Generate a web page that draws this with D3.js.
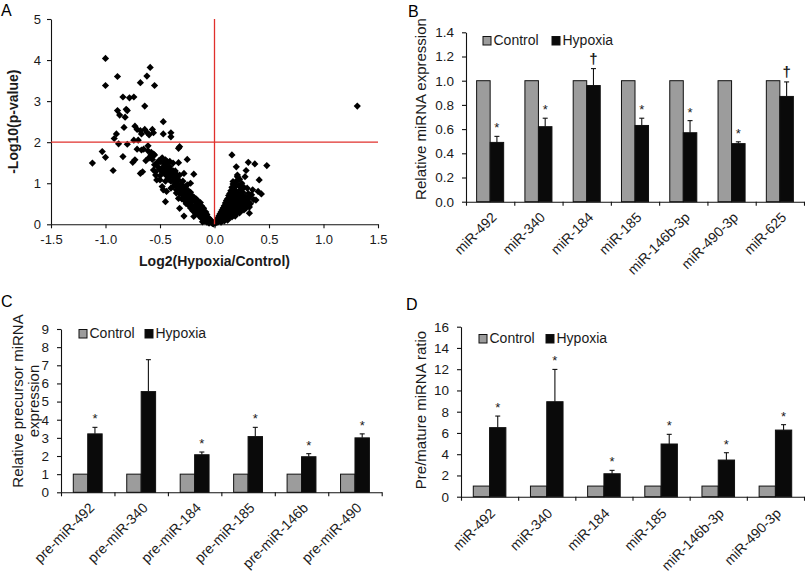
<!DOCTYPE html>
<html><head><meta charset="utf-8">
<script src="https://cdn.jsdelivr.net/npm/d3@7"></script>
<style>body{margin:0;background:#fff}svg{display:block;font-family:"Liberation Sans",Arial,sans-serif}</style>
</head><body><svg id="c" width="805" height="576"></svg>
<script>
// ---------- Panel A: volcano plot data [log2 FC, -log10 p] ----------
const volcanoPoints = [
[-1.00,4.04],[-1.00,3.38],[-0.89,3.60],[-0.59,3.82],[-0.62,3.61],[-0.68,3.45],[-0.55,3.38],[-0.84,3.10],[-0.78,3.08],[-0.74,3.10],
[-0.64,2.88],[1.31,2.88],[-0.89,2.77],[-0.81,2.80],[-0.80,2.77],[-0.87,2.66],[-0.82,2.61],[-0.47,2.50],[-0.83,2.36],[-0.73,2.39],
[-0.71,2.31],[-0.68,2.28],[-0.64,2.31],[-0.62,2.24],[-0.57,2.31],[-0.56,2.23],[-0.67,2.20],[-0.60,2.18],[-0.90,2.20],[-0.92,2.09],
[-0.47,2.20],[-0.40,2.23],[-0.40,2.13],[-0.74,2.05],[-0.70,2.05],[-0.80,1.95],[-0.88,1.96],[-0.61,1.91],[-0.71,1.83],[-0.67,1.81],
[-0.65,1.83],[-0.58,1.75],[-0.55,1.69],[-1.03,1.77],[-1.00,1.63],[-1.12,1.49],[-0.93,1.31],[-0.84,1.65],[-0.75,1.51],[-0.73,1.57],
[-0.68,1.24],[-0.66,1.28],[-0.58,1.66],[-0.57,1.58],[-0.53,1.49],[-0.50,1.52],[-0.45,1.50],[-0.41,1.53],[-0.38,1.49],[-0.33,1.50],
[-0.32,1.89],[-0.33,1.85],[-0.25,1.58],[-0.54,1.28],[-0.53,1.08],[-0.50,1.08],[-0.46,1.24],[-0.44,1.36],[-0.41,1.32],[-0.39,1.24],
[-0.42,1.16],[-0.38,1.16],[-0.36,1.04],[-0.32,1.20],[-0.48,0.92],[-0.47,0.84],[-0.44,0.80],[-0.38,0.92],[-0.35,0.84],[-0.30,0.96],
[-0.22,1.00],[-0.32,0.75],[-0.33,0.63],[-0.28,0.59],[-0.45,0.55],[-0.32,0.39],[-0.28,0.20],[-0.24,0.67],[-0.19,0.66],[-0.21,0.55],
[-0.16,0.59],[-0.13,0.53],[-0.18,0.45],[-0.15,0.35],[-0.10,0.39],[-0.19,0.19],[-0.13,0.23],[-0.09,0.27],[-0.07,0.15],[-0.04,0.11],
[-0.10,0.11],[-0.06,0.06],[-0.02,0.04],[-0.61,1.79],[-0.56,1.71],[-0.59,1.65],[-0.45,1.57],[-0.43,1.52],[-0.51,1.55],[-0.47,1.49],
[-0.40,1.32],[-0.35,1.16],[-0.19,1.22],[-0.28,1.24],[-0.56,1.32],[-0.54,1.20],[-0.36,0.96],[-0.33,0.88],[-0.30,0.79],[-0.25,0.96],
[-0.60,1.62],[-0.55,1.45],[-0.52,1.40],[-0.50,1.33],[-0.48,1.28],[-0.47,1.40],[-0.45,1.30],[-0.44,1.18],[-0.43,1.25],[-0.42,1.10],
[-0.41,1.40],[-0.40,1.05],[-0.39,1.20],[-0.38,1.30],[-0.37,1.10],[-0.36,1.00],[-0.35,1.22],[-0.34,0.95],[-0.33,1.08],[-0.32,0.90],
[-0.31,0.98],[-0.30,0.85],[-0.29,0.70],[-0.28,0.80],[-0.27,0.92],[-0.26,0.75],[-0.25,0.65],[-0.24,0.82],[-0.23,0.70],[-0.22,0.60],
[-0.21,0.45],[-0.20,0.68],[-0.19,0.40],[-0.18,0.55],[-0.17,0.36],[-0.16,0.50],[-0.15,0.44],[-0.14,0.30],[-0.13,0.38],[-0.12,0.28],
[-0.11,0.33],[-0.10,0.22],[-0.09,0.18],[-0.08,0.20],[-0.07,0.24],[-0.06,0.12],[-0.05,0.15],[-0.04,0.06],[-0.03,0.09],[-0.02,0.02],
[-0.01,0.01],[-0.26,0.50],[-0.23,0.45],[-0.20,0.33],[-0.17,0.26],[-0.14,0.20],[-0.12,0.15],[-0.09,0.08],[-0.07,0.05],[-0.05,0.03],
[-0.16,0.30],[-0.22,0.40],[-0.24,0.54],[-0.30,0.62],[-0.35,0.76],[-0.40,0.88],[-0.45,1.05],[-0.50,1.18],[-0.58,1.70],[-0.63,1.55],
[-0.48,1.62],[-0.44,1.46],[-0.36,1.30],[-0.29,1.05],[-0.27,0.85],[-0.22,0.78],[-0.17,0.62],[-0.12,0.45],[-0.08,0.30],[-0.11,0.06],
// right side (up-regulated)
[0.16,1.69],[0.20,1.40],[0.31,1.51],[0.37,1.47],[0.48,1.43],[0.29,1.31],[0.28,1.16],[0.41,1.08],[0.35,0.84],[0.40,0.80],
[0.38,0.59],[0.43,0.74],[0.32,0.27],[0.21,1.16],[0.17,1.04],[0.24,0.92],[0.30,0.88],[0.28,0.67],[0.33,0.71],[0.23,1.10],
[0.21,1.20],[0.25,1.00],[0.27,0.90],[0.31,0.75],[0.34,0.72],[0.36,0.60],[0.33,0.50],[0.32,0.65],[0.32,0.42],[0.31,0.55],
[0.01,0.03],[0.02,0.06],[0.02,0.10],[0.03,0.05],[0.03,0.15],[0.04,0.08],[0.04,0.20],[0.05,0.12],[0.05,0.25],[0.06,0.05],
[0.06,0.18],[0.06,0.30],[0.07,0.10],[0.07,0.22],[0.07,0.35],[0.08,0.15],[0.08,0.28],[0.08,0.40],[0.09,0.08],[0.09,0.20],
[0.09,0.33],[0.09,0.45],[0.10,0.12],[0.10,0.25],[0.10,0.38],[0.10,0.52],[0.11,0.18],[0.11,0.30],[0.11,0.42],[0.11,0.58],
[0.12,0.10],[0.12,0.22],[0.12,0.35],[0.12,0.48],[0.12,0.62],[0.13,0.15],[0.13,0.28],[0.13,0.40],[0.13,0.55],[0.13,0.70],
[0.14,0.20],[0.14,0.32],[0.14,0.45],[0.14,0.60],[0.14,0.75],[0.15,0.25],[0.15,0.38],[0.15,0.50],[0.15,0.65],[0.15,0.82],
[0.16,0.18],[0.16,0.30],[0.16,0.42],[0.16,0.55],[0.16,0.70],[0.16,0.90],[0.17,0.22],[0.17,0.35],[0.17,0.48],[0.17,0.60],
[0.17,0.78],[0.17,0.98],[0.18,0.28],[0.18,0.40],[0.18,0.52],[0.18,0.65],[0.18,0.85],[0.19,0.20],[0.19,0.33],[0.19,0.45],
[0.19,0.58],[0.19,0.72],[0.19,0.92],[0.20,0.25],[0.20,0.38],[0.20,0.50],[0.20,0.62],[0.20,0.80],[0.20,1.05],[0.21,0.30],
[0.21,0.42],[0.21,0.55],[0.21,0.68],[0.22,0.35],[0.22,0.48],[0.22,0.60],[0.22,0.75],[0.22,0.95],[0.23,0.28],[0.23,0.40],
[0.23,0.52],[0.23,0.65],[0.24,0.32],[0.24,0.45],[0.24,0.58],[0.24,0.85],[0.25,0.38],[0.25,0.50],[0.25,0.70],[0.26,0.42],
[0.26,0.55],[0.26,0.78],[0.27,0.35],[0.27,0.48],[0.27,0.62],[0.28,0.45],[0.28,0.58],[0.29,0.40],[0.29,0.52],[0.30,0.48],
[0.30,0.62]
];
const volcanoXTicks = [-1.5,-1.0,-0.5,0.0,0.5,1.0,1.5];
const volcanoYTicks = [0,1,2,3,4,5];
const pThreshold = 2;

// ---------- Panel B: mature miRNA ----------
const bLabels   = ["miR-492","miR-340","miR-184","miR-185","miR-146b-3p","miR-490-3p","miR-625"];
const bControl  = [1,1,1,1,1,1,1];
const bHypoxia  = [0.49,0.62,0.96,0.63,0.57,0.48,0.87];
const bErr      = [0.05,0.07,0.14,0.06,0.10,0.015,0.12];
const bMarks    = ["*","*","\u2020","*","*","*","\u2020"];
const bYTicks   = [0,0.2,0.4,0.6,0.8,1.0,1.2,1.4];

// ---------- Panel C: precursor miRNA ----------
const cLabels   = ["pre-miR-492","pre-miR-340","pre-miR-184","pre-miR-185","pre-miR-146b","pre-miR-490"];
const cControl  = [1,1,1,1,1,1];
const cHypoxia  = [3.22,5.55,2.07,3.07,1.96,3.0];
const cErr      = [0.36,1.76,0.15,0.51,0.17,0.22];
const cMarks    = ["*","","*","*","*","*"];
const cYTicks   = [0,1,2,3,4,5,6,7,8,9];

// ---------- Panel D: pre/mature ratio ----------
const dLabels   = ["miR-492","miR-340","miR-184","miR-185","miR-146b-3p","miR-490-3p"];
const dControl  = [1,1,1,1,1,1];
const dHypoxia  = [6.5,8.94,2.16,4.96,3.45,6.27];
const dErr      = [1.09,3.04,0.32,0.91,0.69,0.51];
const dMarks    = ["*","*","*","*","*","*"];
const dYTicks   = [0,2,4,6,8,10,12,14,16];

const seriesNames = ["Control","Hypoxia"];
const colControl = "#9c9c9c", colHyp = "#0a0a0a", txt = "#1a1a1a";

const svg = d3.select("#c");

function styleAxis(g, fs){
  g.attr("font-family",null).attr("font-size",null);
  g.selectAll("text").attr("font-size",fs).attr("fill",txt);
  g.selectAll("path,line").attr("stroke","#111").attr("stroke-width",1.1);
}

// ================= Panel A =================
(function(){
  const x = d3.scaleLinear().domain([-1.5,1.5]).range([51,378]);
  const y = d3.scaleLinear().domain([0,5]).range([224.3,19]);
  const g = svg.append("g");
  g.append("g").attr("transform",`translate(0,${y(0)})`)
    .call(d3.axisBottom(x).tickValues(volcanoXTicks).tickFormat(d=>d.toFixed(1)).tickSize(4).tickSizeOuter(0).tickPadding(6))
    .call(a=>styleAxis(a,13));
  g.append("g").attr("transform",`translate(${x(-1.5)},0)`)
    .call(d3.axisLeft(y).tickValues(volcanoYTicks).tickFormat(d=>d).tickSize(4).tickSizeOuter(0).tickPadding(6))
    .call(a=>styleAxis(a,13));
  const sym = d3.symbol().type(d3.symbolSquare).size(26);
  g.append("g").selectAll("path").data(volcanoPoints).join("path")
    .attr("d",sym).attr("fill","#000")
    .attr("transform",d=>`translate(${x(d[0])},${y(d[1])}) rotate(45)`);
  g.append("line").attr("x1",x(-1.5)).attr("x2",x(1.5)).attr("y1",y(pThreshold)).attr("y2",y(pThreshold))
    .attr("stroke","#e0302c").attr("stroke-width",1.3);
  g.append("line").attr("x1",x(0)).attr("x2",x(0)).attr("y1",y(0)).attr("y2",y(5))
    .attr("stroke","#e0302c").attr("stroke-width",1.3);
  g.append("text").attr("x",x(0)).attr("y",266).attr("text-anchor","middle")
    .attr("font-size",14).attr("font-weight","bold").attr("fill",txt).text("Log2(Hypoxia/Control)");
  g.append("text").attr("transform",`translate(13,121.7) rotate(-90)`).attr("dy","0.35em").attr("text-anchor","middle")
    .attr("font-size",14).attr("font-weight","bold").attr("fill",txt).text("-Log10(p-value)");
})();

// ================= Bar panels =================
function barPanel(o){
  const n = o.labels.length;
  const band = d3.scaleBand().domain(o.labels).range([o.x0,o.x1]).paddingInner(0).paddingOuter(0);
  const bnd = d3.scaleLinear().domain([0,n]).range([o.x0,o.x1]);
  const y = d3.scaleLinear().domain([0,o.ymax]).range([o.y0,o.y1]);
  const g = svg.append("g");
  const bw = band.bandwidth()*o.frac;
  const sub = d3.scaleBand().domain(seriesNames).range([-bw, bw]);
  const rows = o.labels.map((l,i)=>({l, c:o.control[i], h:o.hyp[i], e:o.err[i], m:o.marks[i]}));
  const cx = d=>band(d.l)+band.bandwidth()/2;
  g.append("g").selectAll("rect").data(rows).join("rect")
    .attr("x",d=>cx(d)+sub("Control")).attr("width",sub.bandwidth())
    .attr("y",d=>y(d.c)).attr("height",d=>y(0)-y(d.c))
    .attr("fill",colControl).attr("stroke","#111").attr("stroke-width",1);
  g.append("g").selectAll("rect").data(rows).join("rect")
    .attr("x",d=>cx(d)+sub("Hypoxia")).attr("width",sub.bandwidth())
    .attr("y",d=>y(d.h)).attr("height",d=>y(0)-y(d.h))
    .attr("fill",colHyp).attr("stroke","#111").attr("stroke-width",1);
  const eb = g.append("g").attr("stroke","#111").attr("stroke-width",1.1);
  eb.selectAll("line.v").data(rows).join("line").attr("class","v")
    .attr("x1",d=>cx(d)+bw/2).attr("x2",d=>cx(d)+bw/2)
    .attr("y1",d=>y(d.h)).attr("y2",d=>y(d.h+d.e));
  eb.selectAll("line.c").data(rows).join("line").attr("class","c")
    .attr("x1",d=>cx(d)+bw/2-2.5).attr("x2",d=>cx(d)+bw/2+2.5)
    .attr("y1",d=>y(d.h+d.e)).attr("y2",d=>y(d.h+d.e));
  g.append("g").selectAll("text").data(rows.filter(d=>d.m)).join("text")
    .attr("x",d=>cx(d)+bw/2).attr("y",d=>y(d.h+d.e)-(d.m==="*"?4:5))
    .attr("text-anchor","middle").attr("fill",txt)
    .attr("font-size",d=>d.m==="*"?13:15).attr("font-weight",d=>d.m==="*"?"normal":"bold")
    .text(d=>d.m);
  g.append("g").attr("transform",`translate(0,${o.y0})`)
    .call(d3.axisBottom(bnd).tickValues(d3.range(n+1)).tickFormat("").tickSize(4).tickSizeOuter(0))
    .call(a=>styleAxis(a,13));
  g.append("g").attr("transform",`translate(${o.x0},0)`)
    .call(d3.axisLeft(y).tickValues(o.yticks).tickFormat(o.fmt).tickSize(4).tickSizeOuter(0).tickPadding(8))
    .call(a=>styleAxis(a,13.5));
  g.append("g").selectAll("text").data(o.labels).join("text")
    .attr("transform",l=>`translate(${band(l)+band.bandwidth()/2+o.lx},${o.y0+o.ly}) rotate(-45)`)
    .attr("text-anchor","end").attr("dy","0.35em").attr("font-size",14).attr("fill",txt).text(l=>l);
  const lg = g.append("g");
  [[o.leg[0],colControl,seriesNames[0]],[o.leg[1],colHyp,seriesNames[1]]].forEach(([lx,col,name])=>{
    lg.append("rect").attr("x",lx).attr("y",o.legY-8.5).attr("width",8).attr("height",8.5)
      .attr("fill",col).attr("stroke","#111").attr("stroke-width",1);
    lg.append("text").attr("x",lx+10.5).attr("y",o.legY).attr("font-size",14).attr("fill",txt).text(name);
  });
  o.title.forEach((t,i)=>{
    g.append("text").attr("transform",`translate(${o.tx[i]},${o.ty}) rotate(-90)`).attr("dy","0.35em")
      .attr("text-anchor","middle").attr("font-size",15).attr("fill",txt).text(t);
  });
  svg.append("text").attr("x",o.letter[1]).attr("y",o.letter[2]).attr("font-size",16).attr("fill","#000").text(o.letter[0]);
}

svg.append("text").attr("x",1).attr("y",16).attr("font-size",16).attr("fill","#000").text("A");

barPanel({labels:bLabels, control:bControl, hyp:bHypoxia, err:bErr, marks:bMarks,
  x0:466, x1:804, y0:201.7, y1:32.3, ymax:1.4, yticks:bYTicks, fmt:d=>d.toFixed(1), frac:0.28,
  lx:4, ly:13, leg:[483,552], legY:45, title:["Relative miRNA expression"], tx:[421], ty:109, letter:["B",408,17]});

barPanel({labels:cLabels, control:cControl, hyp:cHypoxia, err:cErr, marks:cMarks,
  x0:61, x1:381.7, y0:492.3, y1:329, ymax:9, yticks:cYTicks, fmt:d=>d, frac:0.27,
  lx:4, ly:13, leg:[79,145], legY:338, title:["Relative precursor miRNA","expression"], tx:[18,34], ty:401, letter:["C",1,307]});

barPanel({labels:dLabels, control:dControl, hyp:dHypoxia, err:dErr, marks:dMarks,
  x0:461, x1:804, y0:496.7, y1:326.7, ymax:16, yticks:dYTicks, fmt:d=>d, frac:0.285,
  lx:3, ly:14, leg:[479,546], legY:343, title:["Pre/mature miRNA ratio"], tx:[421], ty:410, letter:["D",406,310]});
</script></body></html>
